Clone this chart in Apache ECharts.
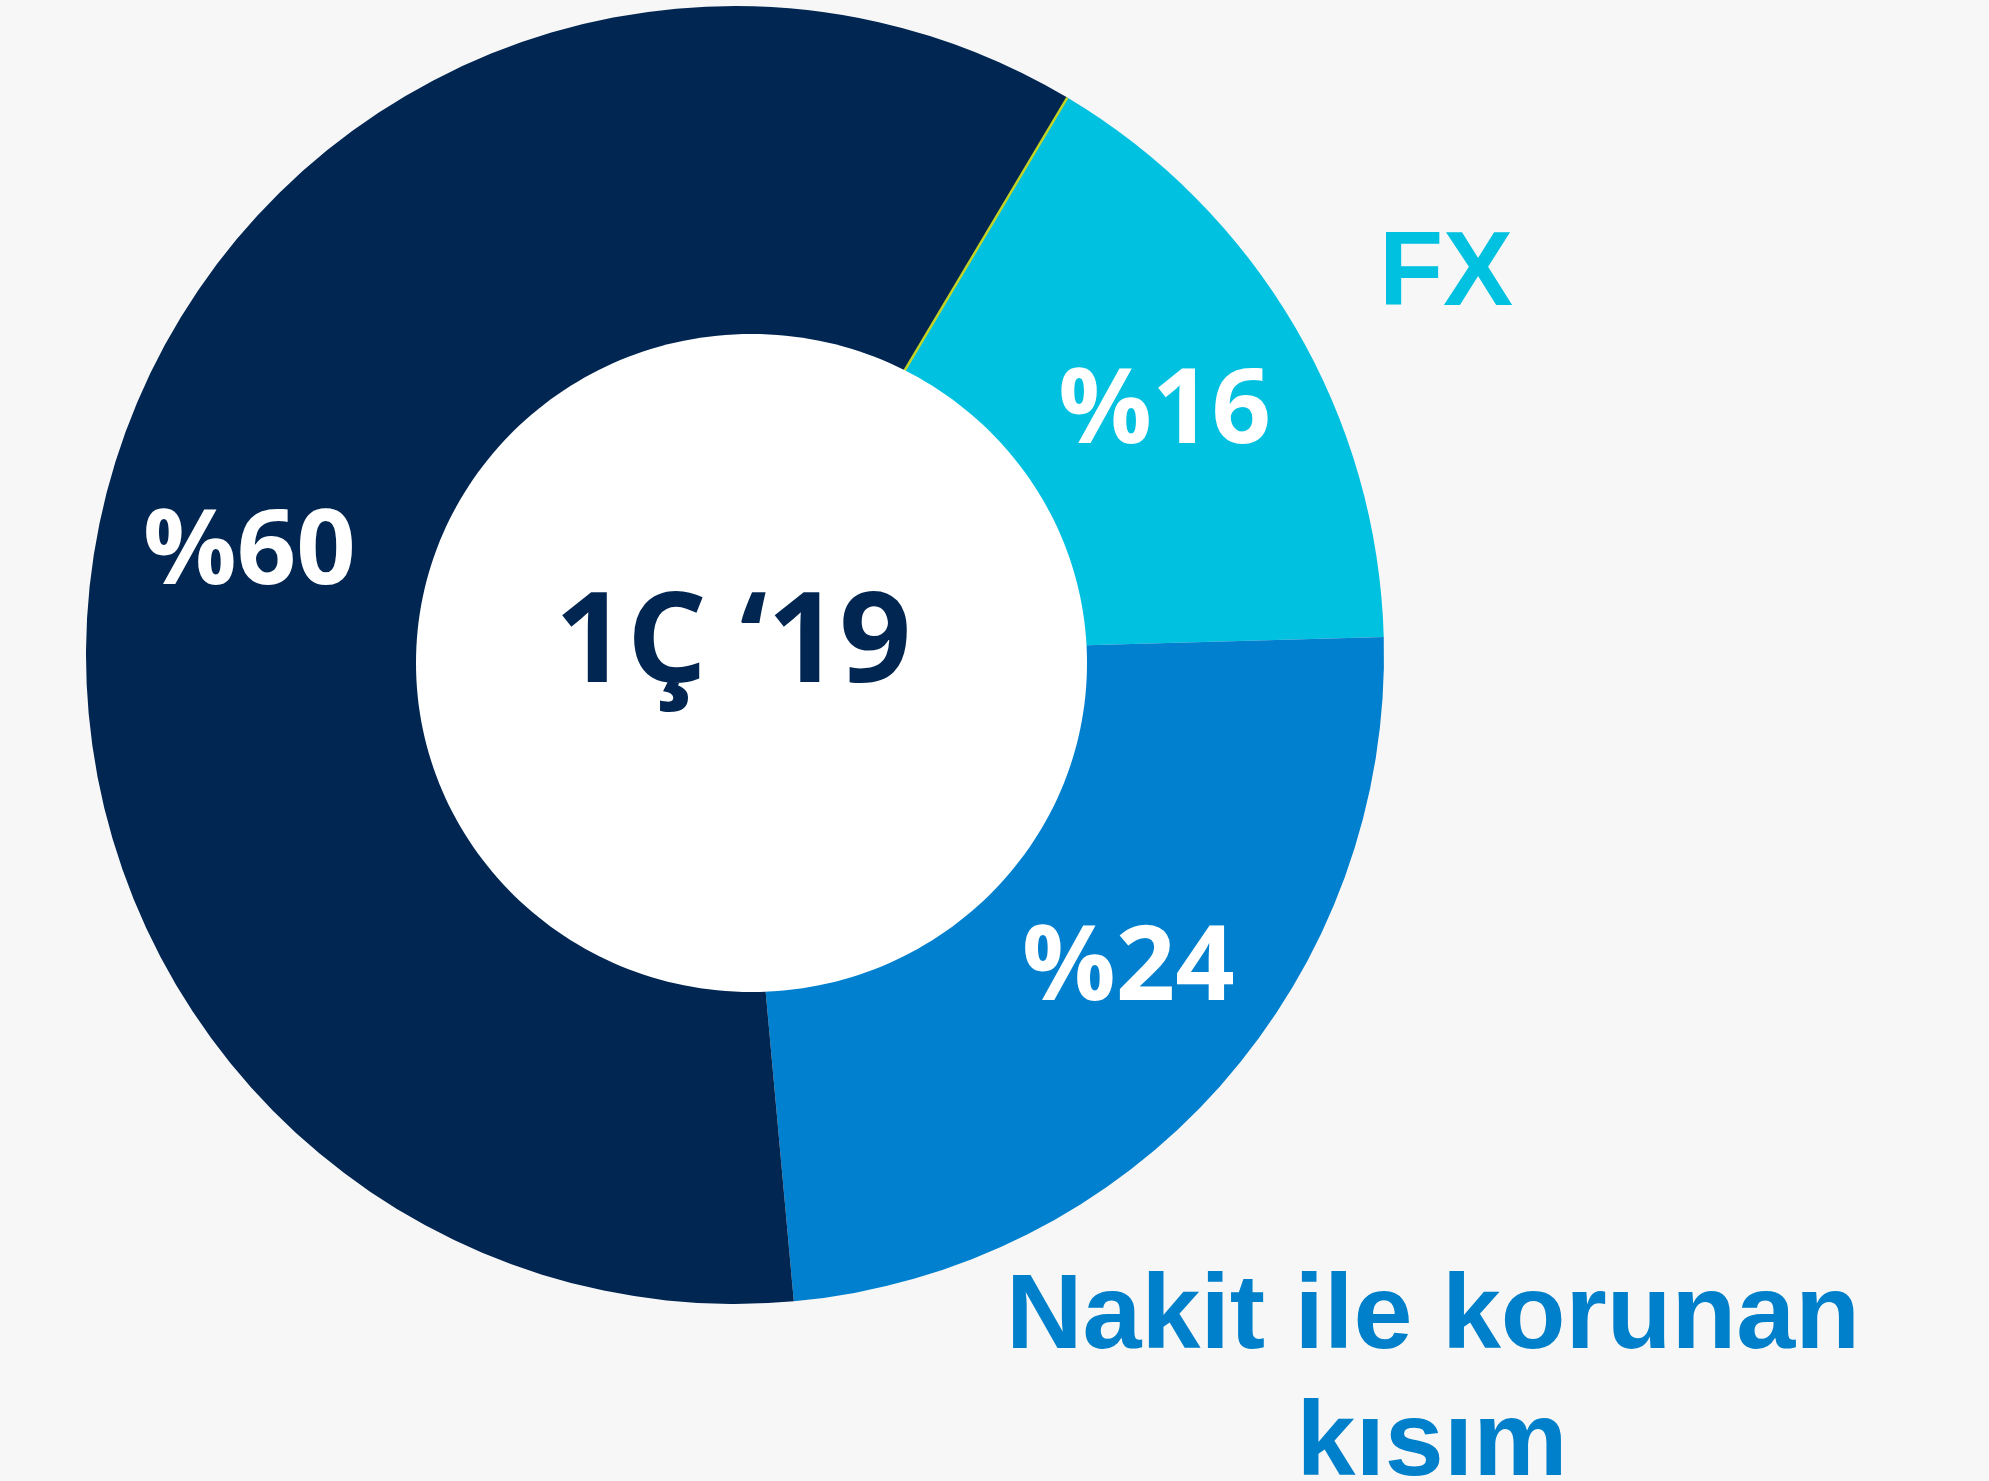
<!DOCTYPE html>
<html>
<head>
<meta charset="utf-8">
<script src="https://cdn.jsdelivr.net/npm/echarts@6/dist/echarts.min.js"></script>
<style>
  html, body { margin: 0; padding: 0; background: #f7f7f7; }
  #chart { width: 1989px; height: 1481px; }
</style>
</head>
<body>
<div id="chart"></div>
<script>
// data
const sliceNames = ["FX", "Nakit ile korunan kısım", "Diğer"];
const sliceValues = [16, 24, 60];
const sliceLabels = ["%16", "%24", "%60"];
const centerLabel = "1Ç ‘19";

const colors = ["#00c1e0", "#0080ce", "#012652"];
const cx = 735, cy = 655, outerR = 649;

const myChart = echarts.init(document.getElementById("chart"));

const pieData = sliceValues.map((v, i) => ({ name: sliceNames[i], value: v }));

const option = {
  backgroundColor: "#f7f7f7",
  animation: false,
  series: [
    {
      // filled disc
      type: "pie",
      center: [cx, cy],
      radius: [0, outerR],
      startAngle: 59.2,
      clockwise: true,
      silent: true,
      label: { show: false },
      labelLine: { show: false },
      itemStyle: { borderWidth: 0, color: (p) => colors[p.dataIndex] },
      data: pieData
    },
    {
      // label carrier, ring so that "inside" sits near the rim
      type: "pie",
      center: [cx, cy],
      radius: [341, outerR],
      startAngle: 59.2,
      clockwise: true,
      silent: true,
      itemStyle: { color: "rgba(0,0,0,0)", borderWidth: 0 },
      labelLine: { show: false },
      label: {
        show: true,
        position: "inside",
        offset: [0, 10],
        formatter: (p) => sliceLabels[p.dataIndex],
        color: "#ffffff",
        fontFamily: "Open Sans",
        fontWeight: 700,
        fontSize: 104
      },
      data: pieData.map((d, i) =>
        i === 1 ? Object.assign({}, d, { label: { offset: [21, -15] } }) : d
      )
    }
  ]
};

myChart.setOption(option);

// divider between navy and cyan slices, taken from the pie layout
const layout = myChart.getModel().getSeriesByIndex(0).getData().getItemLayout(0);
const a = layout.startAngle;

myChart.setOption({
  graphic: [
    {
      type: "line",
      z: 3,
      shape: {
        x1: cx, y1: cy,
        x2: cx + outerR * Math.cos(a),
        y2: cy + outerR * Math.sin(a)
      },
      style: { stroke: "#c3d325", lineWidth: 2.5 }
    },
    {
      type: "ellipse",
      z: 5,
      shape: { cx: 751.5, cy: 663, rx: 335.5, ry: 329 },
      style: { fill: "#ffffff" }
    },
    {
      type: "text",
      z: 10,
      x: 733, y: 646,
      style: {
        text: centerLabel,
        fill: "#012652",
        font: "700 126px 'Open Sans'",
        align: "center",
        verticalAlign: "middle"
      }
    },
    {
      type: "text",
      z: 10,
      x: 1446, y: 276,
      style: {
        text: sliceNames[0],
        fill: "#00c1e0",
        font: "700 105px 'Liberation Sans'",
        align: "center",
        verticalAlign: "middle"
      }
    },
    {
      type: "text",
      z: 10,
      x: 1433, y: 1319,
      style: {
        text: "Nakit ile korunan",
        fill: "#0080ca",
        font: "700 106px 'Liberation Sans'",
        align: "center",
        verticalAlign: "middle"
      }
    },
    {
      type: "text",
      z: 10,
      x: 1432, y: 1446,
      style: {
        text: "kısım",
        fill: "#0080ca",
        font: "700 106px 'Liberation Sans'",
        align: "center",
        verticalAlign: "middle"
      }
    }
  ]
});
</script>
</body>
</html>
